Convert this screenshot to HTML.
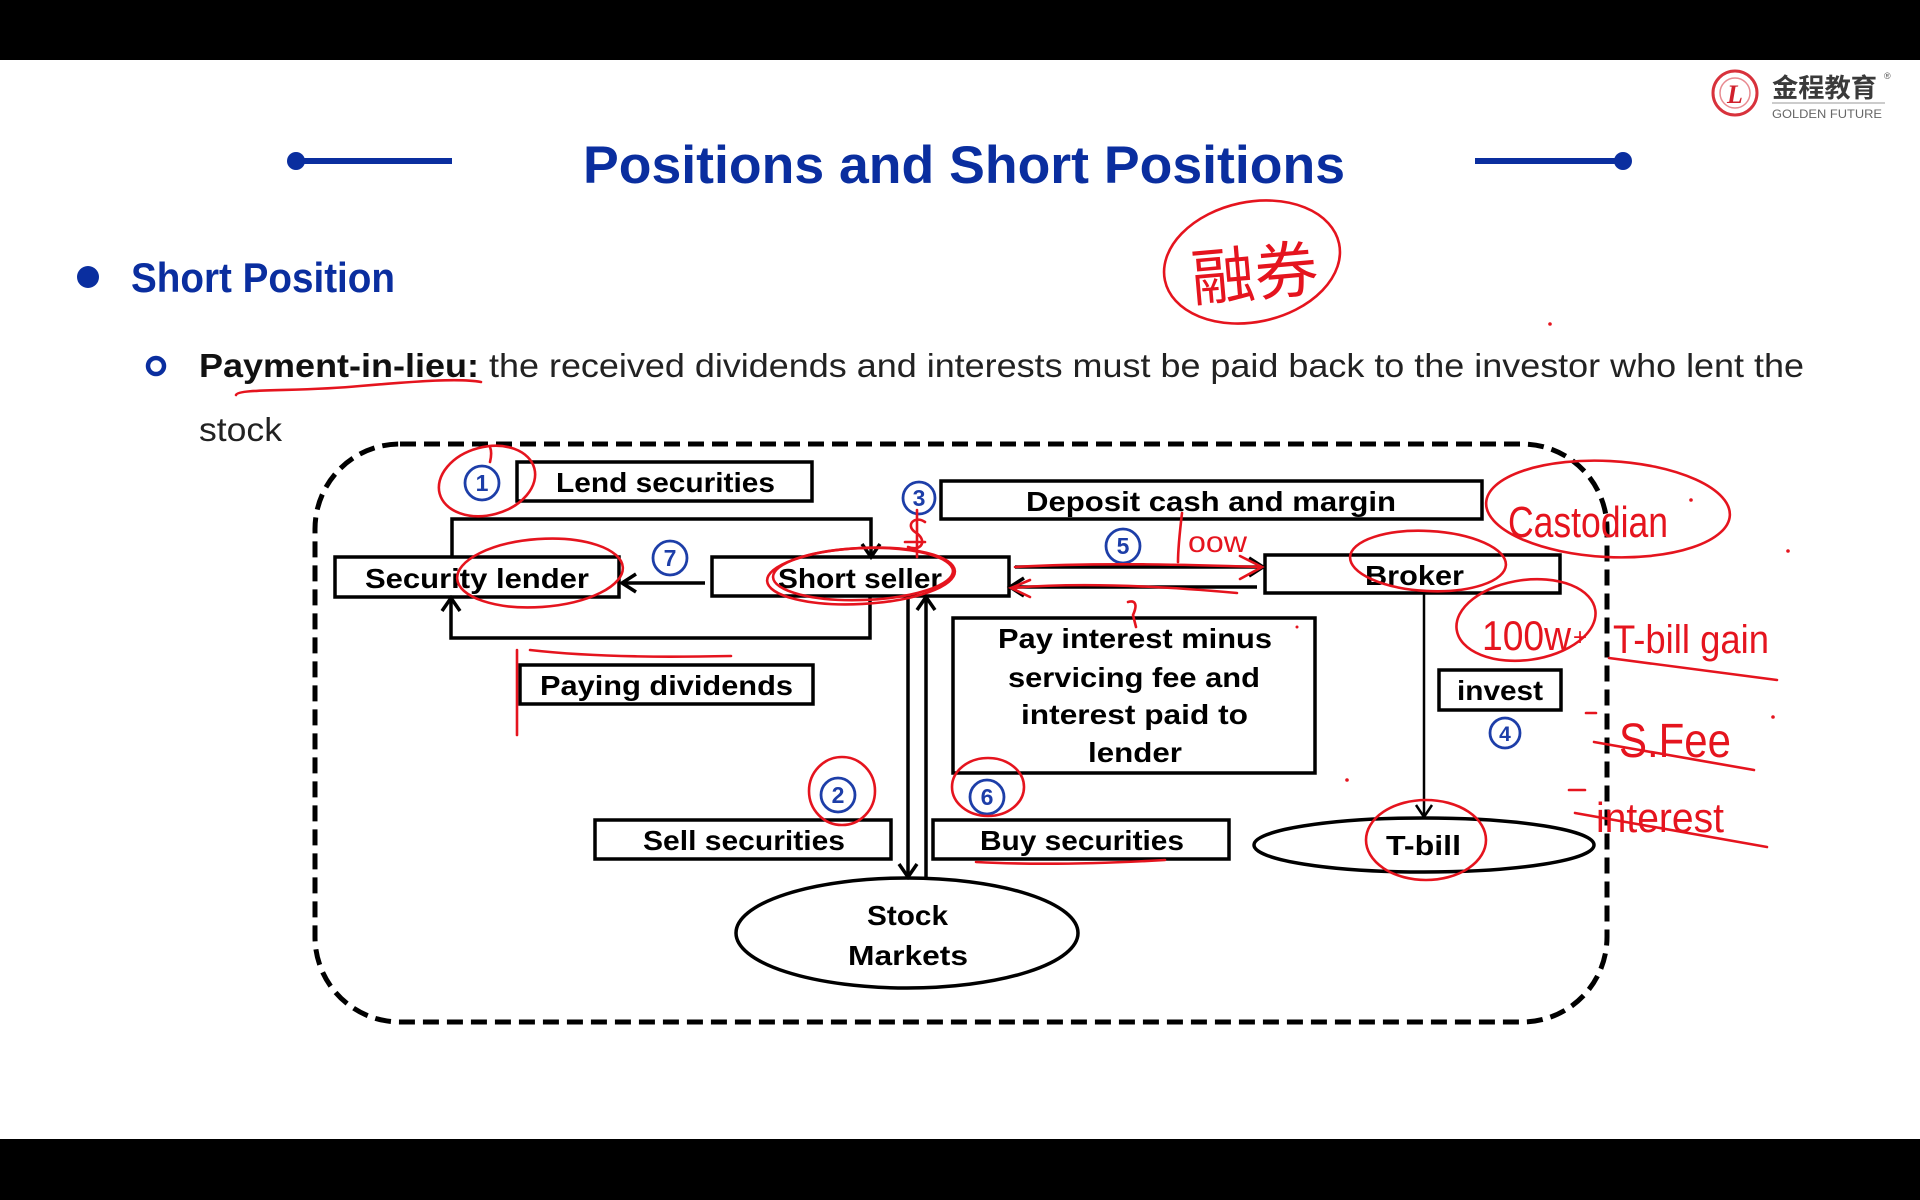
<!DOCTYPE html>
<html><head><meta charset="utf-8"><style>
html,body{margin:0;padding:0;background:#fff;}
svg{display:block;}
</style></head><body>
<svg width="1920" height="1200" viewBox="0 0 1920 1200" xmlns="http://www.w3.org/2000/svg">
<rect x="0" y="0" width="1920" height="1200" fill="#fff"/>
<rect x="0" y="0" width="1920" height="60" fill="#000"/>
<rect x="0" y="1139" width="1920" height="61" fill="#000"/>

<!-- logo -->
<circle cx="1735" cy="93" r="22" fill="#fff" stroke="#d8323c" stroke-width="3"/>
<circle cx="1735" cy="93" r="15" fill="none" stroke="#e88a90" stroke-width="1.5"/>
<text x="1735" y="103" font-family="Liberation Serif, serif" font-style="italic" font-weight="bold" font-size="26" fill="#d0202c" text-anchor="middle">L</text>
<text x="1772" y="97" font-family="Liberation Sans, 'Noto Sans CJK SC', sans-serif" font-weight="bold" font-size="26" fill="#3a3a3a" textLength="105" lengthAdjust="spacingAndGlyphs">金程教育</text>
<text x="1884" y="79" font-family="Liberation Sans, sans-serif" font-size="9" fill="#555">®</text>
<line x1="1772" y1="103" x2="1885" y2="103" stroke="#999" stroke-width="1"/>
<text x="1772" y="118" font-family="Liberation Sans, sans-serif" font-size="12" fill="#666" textLength="110" lengthAdjust="spacingAndGlyphs">GOLDEN FUTURE</text>

<!-- title -->
<line x1="296" y1="161" x2="452" y2="161" stroke="#0a2e9f" stroke-width="6"/>
<circle cx="296" cy="161" r="9" fill="#0a2e9f"/>
<line x1="1475" y1="161" x2="1623" y2="161" stroke="#0a2e9f" stroke-width="6"/>
<circle cx="1623" cy="161" r="9" fill="#0a2e9f"/>
<text x="583" y="183" font-family="Liberation Sans, sans-serif" font-weight="bold" font-size="53" fill="#0a2e9f" textLength="762" lengthAdjust="spacingAndGlyphs">Positions and Short Positions</text>

<!-- bullets -->
<circle cx="88" cy="277" r="11" fill="#0a2e9f"/>
<text x="131" y="292" font-family="Liberation Sans, sans-serif" font-weight="bold" font-size="42" fill="#0a2e9f" textLength="264" lengthAdjust="spacingAndGlyphs">Short Position</text>
<circle cx="156" cy="366" r="8" fill="none" stroke="#0a2e9f" stroke-width="4.5"/>
<text x="199" y="377" font-family="Liberation Sans, sans-serif" font-weight="bold" font-size="33" fill="#111" textLength="280" lengthAdjust="spacingAndGlyphs">Payment-in-lieu:</text>
<text x="489" y="377" font-family="Liberation Sans, sans-serif" font-size="33" fill="#222" textLength="1315" lengthAdjust="spacingAndGlyphs">the received dividends and interests must be paid back to the investor who lent the</text>
<text x="199" y="441" font-family="Liberation Sans, sans-serif" font-size="33" fill="#222" textLength="83" lengthAdjust="spacingAndGlyphs">stock</text>

<!-- dashed container -->
<rect x="315" y="444" width="1292" height="578" rx="85" ry="85" fill="none" stroke="#000" stroke-width="5" stroke-dasharray="16 8"/>

<g fill="#fff" stroke="#000" stroke-width="3.5">
<rect x="517" y="462" width="295" height="39"/>
<rect x="941" y="481" width="541" height="38"/>
<rect x="335" y="557" width="284" height="40"/>
<rect x="712" y="557" width="297" height="39"/>
<rect x="1265" y="555" width="295" height="38"/>
<rect x="520" y="665" width="293" height="39"/>
<rect x="953" y="618" width="362" height="155"/>
<rect x="1439" y="670" width="122" height="40"/>
<rect x="595" y="820" width="296" height="39"/>
<rect x="933" y="820" width="296" height="39"/>
<ellipse cx="907" cy="933" rx="171" ry="55"/>
<ellipse cx="1424" cy="845" rx="170" ry="27"/>
</g>

<!-- connectors -->
<g fill="none" stroke="#000" stroke-width="3.5" stroke-linejoin="miter">
<path d="M452 557 V519 H871 V556"/>
<polyline points="862,544 871,557 880,544"/>
<path d="M870 596 V638 H451 V599"/>
<polyline points="442,611 451,598 460,611"/>
<path d="M705 583 H623"/>
<polyline points="636,574 622,583 636,592"/>
<path d="M1015 567 H1261"/>
<polyline points="1249,558 1263,567 1249,576"/>
<path d="M1257 587 H1012"/>
<polyline points="1024,578 1010,587 1024,596"/>
<path d="M908 596 V876"/>
<polyline points="899,864 908,877 917,864"/>
<path d="M926 878 V598"/>
<polyline points="917,610 926,597 935,610"/>
</g>
<path d="M1424 593 V816" stroke="#000" stroke-width="2.5" fill="none"/>
<polyline points="1416,805 1424,817 1432,805" stroke="#000" stroke-width="2.5" fill="none"/>

<!-- labels -->
<g font-family="Liberation Sans, sans-serif" font-weight="bold" font-size="28" fill="#000" lengthAdjust="spacingAndGlyphs">
<text x="556" y="492" textLength="219" lengthAdjust="spacingAndGlyphs">Lend securities</text>
<text x="1026" y="511" textLength="370" lengthAdjust="spacingAndGlyphs">Deposit cash and margin</text>
<text x="365" y="588" textLength="224" lengthAdjust="spacingAndGlyphs">Security lender</text>
<text x="778" y="588" textLength="164" lengthAdjust="spacingAndGlyphs">Short seller</text>
<text x="1365" y="585" textLength="99" lengthAdjust="spacingAndGlyphs">Broker</text>
<text x="540" y="695" textLength="253" lengthAdjust="spacingAndGlyphs">Paying dividends</text>
<text x="998" y="648" textLength="274" lengthAdjust="spacingAndGlyphs">Pay interest minus</text>
<text x="1008" y="687" textLength="252" lengthAdjust="spacingAndGlyphs">servicing fee and</text>
<text x="1021" y="724" textLength="227" lengthAdjust="spacingAndGlyphs">interest paid to</text>
<text x="1088" y="762" textLength="94" lengthAdjust="spacingAndGlyphs">lender</text>
<text x="1457" y="700" textLength="86" lengthAdjust="spacingAndGlyphs">invest</text>
<text x="643" y="850" textLength="202" lengthAdjust="spacingAndGlyphs">Sell securities</text>
<text x="980" y="850" textLength="204" lengthAdjust="spacingAndGlyphs">Buy securities</text>
<text x="867" y="925" textLength="81" lengthAdjust="spacingAndGlyphs">Stock</text>
<text x="848" y="965" textLength="120" lengthAdjust="spacingAndGlyphs">Markets</text>
<text x="1386" y="855" textLength="75" lengthAdjust="spacingAndGlyphs">T-bill</text>
</g>

<!-- circled numbers -->
<g fill="#fff" stroke="#1d3ea8" stroke-width="2.8">
<circle cx="482" cy="483" r="17"/>
<circle cx="919" cy="498" r="16"/>
<circle cx="670" cy="558" r="17"/>
<circle cx="1123" cy="546" r="17"/>
<circle cx="838" cy="795" r="17"/>
<circle cx="987" cy="797" r="17"/>
<circle cx="1505" cy="733" r="15"/>
</g>
<g font-family="Liberation Sans, sans-serif" font-weight="bold" font-size="23" fill="#1d3ea8" text-anchor="middle">
<text x="482" y="491">1</text>
<text x="919" y="506">3</text>
<text x="670" y="566">7</text>
<text x="1123" y="554">5</text>
<text x="838" y="803">2</text>
<text x="987" y="805">6</text>
<text x="1505" y="741" font-size="21">4</text>
</g>

<!-- red annotations -->
<g fill="none" stroke="#e5141e" stroke-width="2.6" stroke-linecap="round">
<path d="M236 395 C238 388, 300 392, 360 386 C420 381, 460 378, 481 382"/>
<ellipse cx="1252" cy="262" rx="89" ry="60" transform="rotate(-12 1252 262)"/>
<ellipse cx="1608" cy="509" rx="122" ry="48" transform="rotate(3 1608 509)"/>
<ellipse cx="487" cy="481" rx="49" ry="34" transform="rotate(-15 487 481)"/>
<path d="M490 447 C492 452, 491 458, 490 462"/>
<ellipse cx="540" cy="573" rx="83" ry="34" transform="rotate(-4 540 573)"/>
<ellipse cx="861" cy="576" rx="94" ry="28" transform="rotate(-3 861 576)"/>
<ellipse cx="863" cy="574" rx="90" ry="26" transform="rotate(-2 863 574)"/>
<ellipse cx="1428" cy="561" rx="78" ry="30" transform="rotate(3 1428 561)"/>
<ellipse cx="1526" cy="620" rx="70" ry="40" transform="rotate(-8 1526 620)"/>
<ellipse cx="1426" cy="840" rx="60" ry="40"/>
<ellipse cx="842" cy="791" rx="33" ry="34"/>
<ellipse cx="988" cy="787" rx="36" ry="29"/>
<path d="M517 650 V735"/>
<path d="M530 650 C600 658, 680 657, 731 656"/>
<path d="M976 862 C1050 866, 1130 862, 1165 860"/>
<path d="M1015 567 C1100 562, 1200 565, 1260 567"/>
<path d="M1240 556 L1262 567 L1240 579"/>
<path d="M1237 593 C1160 586, 1080 582, 1012 588"/>
<path d="M1030 580 L1011 588 L1030 597"/>
<path d="M1128 602 C1135 600, 1138 604, 1133 615 L1136 627"/>
<path d="M917 510 V557"/>
<path d="M925 522 C915 515, 905 525, 915 532 C928 540, 922 552, 908 547"/>
<path d="M905 542 H925"/>
<path d="M1609 658 L1777 680"/>
<path d="M1586 713 L1596 713"/>
<path d="M1594 742 L1754 770"/>
<path d="M1569 790 L1585 790"/>
<path d="M1575 813 L1767 847"/>
<path d="M1182 513 C1180 530, 1178 550, 1178 562"/>
</g>
<g fill="#e5141e">
<circle cx="1550" cy="324" r="1.8"/>
<circle cx="1788" cy="551" r="1.8"/>
<circle cx="1773" cy="717" r="1.8"/>
<circle cx="1691" cy="500" r="1.8"/>
<circle cx="1347" cy="780" r="1.8"/>
<circle cx="1297" cy="627" r="1.5"/>
</g>
<g fill="#e5141e" font-family="Liberation Sans, 'Noto Sans CJK SC', sans-serif">
<text x="1190" y="296" font-size="62" textLength="127" lengthAdjust="spacingAndGlyphs" transform="rotate(-5 1250 262)">融券</text>
<text x="1508" y="537" font-size="44" textLength="160" lengthAdjust="spacingAndGlyphs">Castodian</text>
<text x="1188" y="552" font-size="30" textLength="59" lengthAdjust="spacingAndGlyphs">oow</text>
<text x="1482" y="650" font-size="42" textLength="89" lengthAdjust="spacingAndGlyphs">100w</text>
<text x="1573" y="645" font-size="24">+</text>
<text x="1613" y="653" font-size="40" textLength="156" lengthAdjust="spacingAndGlyphs">T-bill gain</text>
<text x="1619" y="757" font-size="48" textLength="112" lengthAdjust="spacingAndGlyphs">S.Fee</text>
<text x="1596" y="832" font-size="42" textLength="128" lengthAdjust="spacingAndGlyphs">interest</text>
</g>
</svg>
</body></html>
